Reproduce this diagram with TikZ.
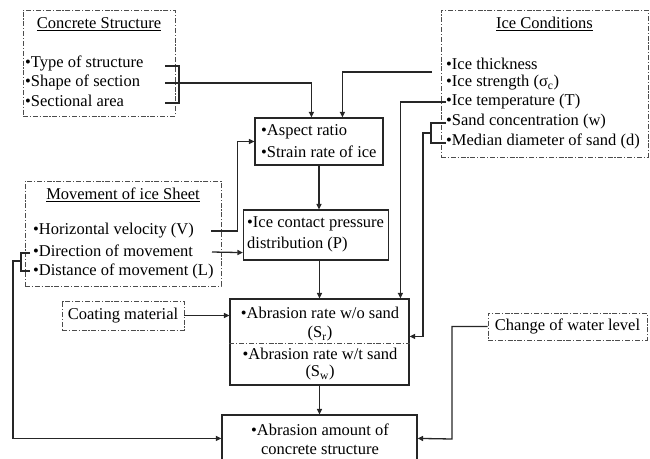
\documentclass[tikz,border=0pt]{standalone}
\usepackage{fontspec}
\setmainfont{Liberation Serif}
\usetikzlibrary{arrows.meta,calc}
\newcommand{\fsz}{\fontsize{16.5}{20}\selectfont}
\tikzset{
  solidbox/.style={draw=black!85, line width=1.2pt, inner sep=0pt},
  ddbox/.style={draw=black!70, line width=0.9pt, dash pattern=on 5pt off 1.8pt on 1.2pt off 1.8pt, inner sep=0pt},
  item/.style={anchor=west, inner sep=0pt, font=\fsz},
  ctext/.style={inner sep=0pt, font=\fsz},
  conn/.style={draw=black!85, line width=1.3pt},
  arr/.style={conn, -{Triangle[length=5.5pt,width=5pt]}},
}
\begin{document}
\begin{tikzpicture}[x=1pt,y=-1pt]
\useasboundingbox (0,0) rectangle (650,458);

% ---- boxes ----
\node[ddbox, minimum width=152pt, minimum height=106pt] (csbox) at (99,63) {};
\node[ddbox, minimum width=207pt, minimum height=147pt] (icbox) at (544.5,83.5) {};
\node[ddbox, minimum width=196pt, minimum height=105pt] (mvbox) at (123,233.5) {};
\node[solidbox, minimum width=128pt, minimum height=47pt] (asp) at (319,141.5) {};
\node[solidbox, minimum width=145pt, minimum height=50pt] (icp) at (316,235) {};
\node[ddbox, minimum width=122pt, minimum height=29pt] (coat) at (123,315.5) {};
\node[solidbox, minimum width=179pt, minimum height=86pt] (abr) at (319.5,342) {};
\node[ddbox, minimum width=159pt, minimum height=27pt] (wl) at (567.5,326.5) {};
\node[solidbox, minimum width=195pt, minimum height=60pt] (amt) at (319.5,445) {};

% divider inside abrasion box
\draw[draw=black!70, line width=0.9pt, dash pattern=on 5pt off 1.8pt on 1.2pt off 1.8pt]
  ($(abr.north west)+(0,45)$) -- ($(abr.north east)+(0,45)$);

% ---- texts ----
\node[ctext] (cstitle) at (99,24) {\underline{Concrete Structure}};
\node[item] (cs1) at (25,63) {•Type of structure};
\node[item] (cs2) at (25,82) {•Shape of section};
\node[item] (cs3) at (25,101) {•Sectional area};

\node[ctext] (ictitle) at (544.5,24) {\underline{Ice Conditions}};
\node[item] (ic1) at (446,64) {•Ice thickness};
\node[item] (ic2) at (446,83) {•Ice strength (σ\textsubscript{c})};
\node[item] (ic3) at (446,102) {•Ice temperature (T)};
\node[item] (ic4) at (446,122) {•Sand concentration (w)};
\node[item] (ic5) at (446,141) {•Median diameter of sand (d)};

\node[ctext] (mvtitle) at (123,195) {\underline{Movement of ice Sheet}};
\node[item] (mv1) at (33,231) {•Horizontal velocity (V)};
\node[item] (mv2) at (33,251) {•Direction of movement};
\node[item] (mv3) at (33,271) {•Distance of movement (L)};

\node[item] (asp1) at (261,132) {•Aspect ratio};
\node[item] (asp2) at (261,152) {•Strain rate of ice};

\node[item] (icp1) at (247,224) {•Ice contact pressure};
\node[item] (icp2) at (247,245) {distribution (P)};

\node[ctext] (coatt) at (coat.center) {Coating material};

\node[ctext] (abr1) at (320,313) {•Abrasion rate w/o sand};
\node[ctext] (abr2) at (320,334) {(S\textsubscript{r})};
\node[ctext] (abr3) at (320,354) {•Abrasion rate w/t sand};
\node[ctext] (abr4) at (320,373) {(S\textsubscript{w})};

\node[ctext] (wlt) at (wl.center) {Change of water level};

\node[ctext] (amt1) at (320,430) {•Abrasion amount of};
\node[ctext] (amt2) at (320,450) {concrete structure};

% ---- bracket coordinates ----
\coordinate (csb1) at (165,66);
\coordinate (csb2) at (165,83);
\coordinate (csb3) at (165,103);
\coordinate (sdb1) at (446,123);
\coordinate (sdb2) at (431,133);
\coordinate (sdb3) at (446,143);
\coordinate (mvb1) at (30,253);
\coordinate (mvb2) at (21,261);
\coordinate (mvb3) at (30,271);
\coordinate (thk) at (432,72);
\coordinate (tmp) at (446,102);
\coordinate (hv) at (211,231);
\coordinate (dm) at (212,252);

% ---- connectors ----
\draw[conn] (csb1) -| (179,103) -- (csb3);
\draw[arr] (csb2) -| ($(asp.north west)+(57,0)$);
\draw[arr] (thk) -| ($(asp.north west)+(88,0)$);
\draw[arr] (tmp) -| ($(abr.north west)+(171,0)$);
\draw[conn] (sdb1) -| (431,143) -- (sdb3);
\draw[arr] (sdb2) -- (423,133) |- ($(abr.north east)+(0,38)$);
\draw[arr] (hv) -| ($(asp.west)+(-17,0)$) -- (asp.west);
\draw[arr] (dm) -- ($(icp.south west)+(0,-8)$);
\draw[conn] (mvb1) -| (21,271) -- (mvb3);
\draw[arr] (mvb2) -- (13,261) |- ($(amt.north west)+(0,24)$);
\draw[arr] (asp.south) -- (asp.south |- icp.north);
\draw[arr] (abr.north |- icp.south) -- (abr.north);
\draw[arr] (abr.south) -- (amt.north);
\draw[arr] (coat.east) -- (coat.east -| abr.west);
\draw[arr] (wl.west) -| (452,439) -- ($(amt.north east)+(0,24)$);
\end{tikzpicture}
\end{document}
